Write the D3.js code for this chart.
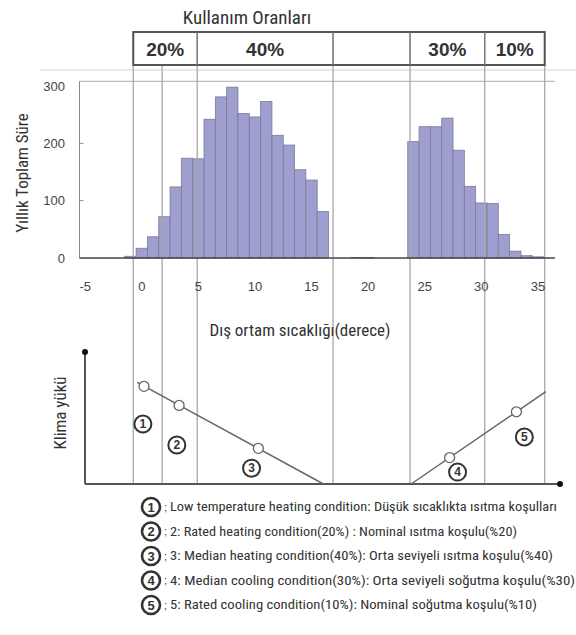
<!DOCTYPE html>
<html><head><meta charset="utf-8">
<script src="https://cdn.jsdelivr.net/npm/d3@7"></script>
<style>
html,body{margin:0;padding:0;background:#fff;}
svg{display:block;}
.nar{font-family:'Liberation Sans Narrow','Roboto Condensed','DejaVu Sans Condensed',sans-serif;font-stretch:condensed;}
</style></head>
<body>
<script>
// ---- data ----
const binTemps = [-1,0,1,2,3,4,5,6,7,8,9,10,11,12,13,14,15,16,19,20,24,25,26,27,28,29,30,31,32,33,34,35];
const binCounts = [3,17,37,72,124,174,173,242,281,298,252,246,273,214,197,154,136,81,1,1,203,229,229,244,188,125,96,95,41,12,4,2];
const xTicks = [-5,0,5,10,15,20,25,30,35];
const yTicks = [0,100,200,300];
const regionBounds = [-0.75,4.9,16.9,23.7,30.3,35.6];
const regionShares = ["20%","40%","","30%","10%"];
const guideTemps = [-0.75,1.8,4.9,16.9,23.7,30.3,35.6];
const heatLine = [[-0.4,0.77],[16.05,0]];
const coolLine = [[23.8,0],[35.7,0.70]];
const condTemps = [0.2,3.3,10.3,27.2,33.1];
const condLoads = [0.74,0.595,0.27,0.20,0.547];
const condMarks = ["1","2","3","4","5"];
const markTemps = [0.1,3.1,9.7,27.9,33.8];
const markLoads = [0.455,0.295,0.12,0.09,0.356];
const legendTexts = [
 "Low temperature heating condition: Düşük sıcaklıkta ısıtma koşulları",
 "2: Rated heating condition(20%) : Nominal ısıtma koşulu(%20)",
 "3: Median heating condition(40%): Orta seviyeli ısıtma koşulu(%40)",
 "4: Median cooling condition(30%): Orta seviyeli soğutma koşulu(%30)",
 "5: Rated cooling condition(10%): Nominal soğutma koşulu(%10)"
];
const titleText = "Kullanım Oranları";
const yTitle = "Yıllık Toplam Süre";
const xTitle = "Dış ortam sıcaklığı(derece)";
const loadTitle = "Klima yükü";

// ---- drawing ----
const W=576,H=635;
const svg=d3.select("body").append("svg").attr("width",W).attr("height",H);
const x=d3.scaleLinear().domain([-5.5,36.5]).range([79.5,554.9]);
const y=d3.scaleLinear().domain([0,300]).range([258,86]);
const yl=d3.scaleLinear().domain([0,1]).range([484,352]);

function circledMark(g, cx, cy, r, sw, fs, label){
  const m=g.append("g").attr("transform",`translate(${cx},${cy})`);
  m.append("circle").attr("r",r).attr("fill","#fff").attr("stroke","#333").attr("stroke-width",sw);
  m.append("text").attr("dy","0.36em").attr("text-anchor","middle")
    .attr("font-family","Liberation Sans, Arial, sans-serif").attr("font-weight","bold")
    .attr("font-size",fs).attr("fill","#333").text(label);
}

// faint horizontal line under header
svg.append("line").attr("x1",40).attr("x2",576).attr("y1",70).attr("y2",70)
  .attr("stroke","#d4d4d4").attr("stroke-width",1);

// histogram frame
svg.append("line").attr("x1",x(-5.5)).attr("x2",x(36.5)).attr("y1",y(308)).attr("y2",y(308))
  .attr("stroke","#bdbdbd").attr("stroke-width",1.2);
svg.append("line").attr("x1",x(-5.5)).attr("x2",x(-5.5)).attr("y1",y(308)).attr("y2",y(0))
  .attr("stroke","#888").attr("stroke-width",1);

// bars
svg.append("g").selectAll("rect").data(binTemps).join("rect")
  .attr("x",d=>x(d-0.5)).attr("width",d=>x(d+0.5)-x(d-0.5))
  .attr("y",(d,i)=>y(binCounts[i])).attr("height",(d,i)=>y(0)-y(binCounts[i]))
  .attr("fill","#9e9ecf").attr("stroke","#7a7a9c").attr("stroke-width",0.8);

// guide vertical lines
svg.append("g").selectAll("line").data(guideTemps).join("line")
  .attr("x1",d=>x(d)).attr("x2",d=>x(d))
  .attr("y1",d=>d===1.8?65:32).attr("y2",484)
  .attr("stroke","#a8a8a8").attr("stroke-width",1.3);

// baseline
svg.append("line").attr("x1",x(-5.5)).attr("x2",x(36.5)).attr("y1",y(0)).attr("y2",y(0))
  .attr("stroke","#444").attr("stroke-width",1.6);

// y ticks
const yAxis=svg.append("g");
yAxis.selectAll("line").data(yTicks.filter(d=>d>0&&d<300)).join("line")
  .attr("x1",x(-5.5)).attr("x2",x(-5.5)+4).attr("y1",d=>y(d)).attr("y2",d=>y(d))
  .attr("stroke","#888");
yAxis.selectAll("text").data(yTicks).join("text")
  .attr("x",65).attr("y",d=>y(d)).attr("dy","0.35em").attr("text-anchor","end")
  .attr("font-family","Liberation Sans, Arial, sans-serif").attr("font-size",13)
  .attr("fill","#444").text(d=>d);

// x tick labels
svg.append("g").selectAll("text").data(xTicks).join("text")
  .attr("x",d=>x(d)).attr("y",286).attr("dy","0.35em").attr("text-anchor","middle")
  .attr("font-family","Liberation Sans, Arial, sans-serif").attr("font-size",13)
  .attr("fill","#444").text(d=>d);

// header box
const hdr=svg.append("g");
hdr.append("rect").attr("x",x(regionBounds[0])).attr("y",32)
  .attr("width",x(regionBounds[regionBounds.length-1])-x(regionBounds[0])).attr("height",33)
  .attr("fill","none").attr("stroke","#555").attr("stroke-width",2);
hdr.selectAll("line").data(regionBounds.slice(1,-1)).join("line")
  .attr("x1",d=>x(d)).attr("x2",d=>x(d)).attr("y1",32).attr("y2",65)
  .attr("stroke","#777").attr("stroke-width",1.3);
hdr.selectAll("text").data(regionShares).join("text")
  .attr("x",(d,i)=>(x(regionBounds[i])+x(regionBounds[i+1]))/2).attr("y",49)
  .attr("dy","0.35em").attr("text-anchor","middle")
  .attr("font-family","Liberation Sans, Arial, sans-serif").attr("font-weight","bold")
  .attr("font-size",19).attr("fill","#333").text(d=>d);

// title
svg.append("text").attr("class","nar").attr("x",247).attr("y",17).attr("dy","0.35em")
  .attr("text-anchor","middle").attr("font-size",19).attr("fill","#333").text(titleText);

// y title
svg.append("text").attr("class","nar").attr("transform","translate(22,173) rotate(-90)")
  .attr("dy","0.35em").attr("text-anchor","middle").attr("font-size",17).attr("fill","#333").text(yTitle);

// x title
svg.append("text").attr("class","nar").attr("x",300).attr("y",330).attr("dy","0.35em")
  .attr("text-anchor","middle").attr("font-size",17).attr("fill","#333").text(xTitle);

// lower chart axes
const lo=svg.append("g");
lo.append("line").attr("x1",85).attr("x2",85).attr("y1",yl(1)).attr("y2",yl(0))
  .attr("stroke","#555").attr("stroke-width",2);
lo.append("line").attr("x1",85).attr("x2",560).attr("y1",yl(0)).attr("y2",yl(0))
  .attr("stroke","#555").attr("stroke-width",2);
lo.append("circle").attr("cx",85).attr("cy",yl(1)).attr("r",3).attr("fill","#111");
lo.append("circle").attr("cx",560).attr("cy",yl(0)).attr("r",3).attr("fill","#111");
lo.append("text").attr("class","nar").attr("transform","translate(60,413) rotate(-90)")
  .attr("dy","0.35em").attr("text-anchor","middle").attr("font-size",17).attr("fill","#333").text(loadTitle);

const ln=d3.line().x(d=>x(d[0])).y(d=>yl(d[1]));
[heatLine,coolLine].forEach(L=>{
  lo.append("path").attr("d",ln(L)).attr("fill","none").attr("stroke","#666").attr("stroke-width",1.5);
});
lo.selectAll("circle.pt").data(condTemps).join("circle").attr("class","pt")
  .attr("cx",d=>x(d)).attr("cy",(d,i)=>yl(condLoads[i])).attr("r",5)
  .attr("fill","#fff").attr("stroke","#666").attr("stroke-width",1.3);
condMarks.forEach((m,i)=>circledMark(lo, x(markTemps[i]), yl(markLoads[i]), 8.5, 2, 12, m));

// legend
const legY=[507,531.5,556,580.5,605];
const legW=[387,347,383,405,367];
const lg=svg.append("g");
condMarks.forEach((m,i)=>circledMark(lg, 151, legY[i], 9, 2.6, 13, m));
lg.selectAll("text.sc").data(condMarks).join("text").attr("class","sc")
  .attr("x",164).attr("y",(d,i)=>legY[i]).attr("dy","0.35em")
  .attr("font-family","Liberation Sans, Arial, sans-serif")
  .attr("font-size",11).attr("fill","#444").text(";");
lg.selectAll("text.lt").data(legendTexts).join("text").attr("class","lt nar")
  .attr("x",170).attr("y",(d,i)=>legY[i]).attr("dy","0.35em")
  .attr("font-size",12).attr("fill","#333")
  .attr("textLength",(d,i)=>legW[i]).attr("lengthAdjust","spacingAndGlyphs").text(d=>d);
</script>
</body></html>
